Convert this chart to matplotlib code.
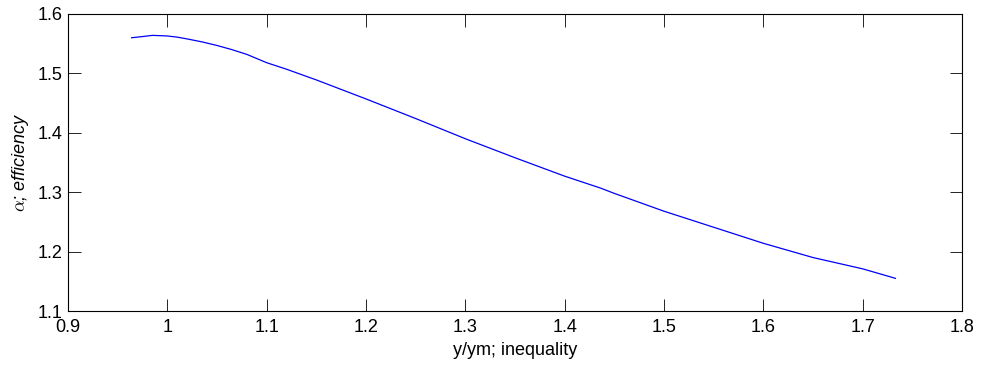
import matplotlib
matplotlib.use("Agg")
import matplotlib.pyplot as plt

x_vals = [0.964, 0.975, 0.985, 1.0, 1.01, 1.02, 1.035, 1.05, 1.065, 1.08, 1.1, 1.12, 1.15,
          1.2, 1.25, 1.3, 1.35, 1.4, 1.436, 1.45, 1.5, 1.55, 1.6, 1.65, 1.7, 1.733]
y_vals = [1.560, 1.562, 1.564, 1.563, 1.561, 1.558, 1.553, 1.547, 1.540, 1.532, 1.518, 1.507, 1.489,
          1.457, 1.424, 1.390, 1.358, 1.327, 1.307, 1.298, 1.268, 1.241, 1.214, 1.190, 1.171, 1.155]

x_ticks = [0.9, 1.0, 1.1, 1.2, 1.3, 1.4, 1.5, 1.6, 1.7, 1.8]
x_ticklabels = ["0.9", "1", "1.1", "1.2", "1.3", "1.4", "1.5", "1.6", "1.7", "1.8"]
y_ticks = [1.1, 1.2, 1.3, 1.4, 1.5, 1.6]
y_ticklabels = ["1.1", "1.2", "1.3", "1.4", "1.5", "1.6"]

plt.rcParams['font.family'] = ['Liberation Sans', 'DejaVu Sans']
plt.rcParams['mathtext.fontset'] = 'cm'

fig = plt.figure(figsize=(9.83, 3.73), dpi=100)
ax = fig.add_axes([0.0692, 0.1662, 0.9094, 0.7963])
ax.plot(x_vals, y_vals, color=(0, 0, 1), linewidth=0.9)
ax.set_xlim(0.9, 1.8)
ax.set_ylim(1.1, 1.6)
ax.set_xticks(x_ticks)
ax.set_xticklabels(x_ticklabels)
ax.set_yticks(y_ticks)
ax.set_yticklabels(y_ticklabels)
ax.tick_params(direction='in', top=True, right=True, length=9, width=0.6, labelsize=13)
ax.tick_params(axis='x', pad=6)
ax.tick_params(axis='y', pad=4)
for s in ax.spines.values():
    s.set_linewidth(0.8)
ax.set_xlabel("y/ym; inequality", fontsize=13, labelpad=4)
ax.set_ylabel(r"$\alpha$; efficiency", fontsize=13, style='italic', labelpad=5)
fig.savefig("out.png", dpi=100)
